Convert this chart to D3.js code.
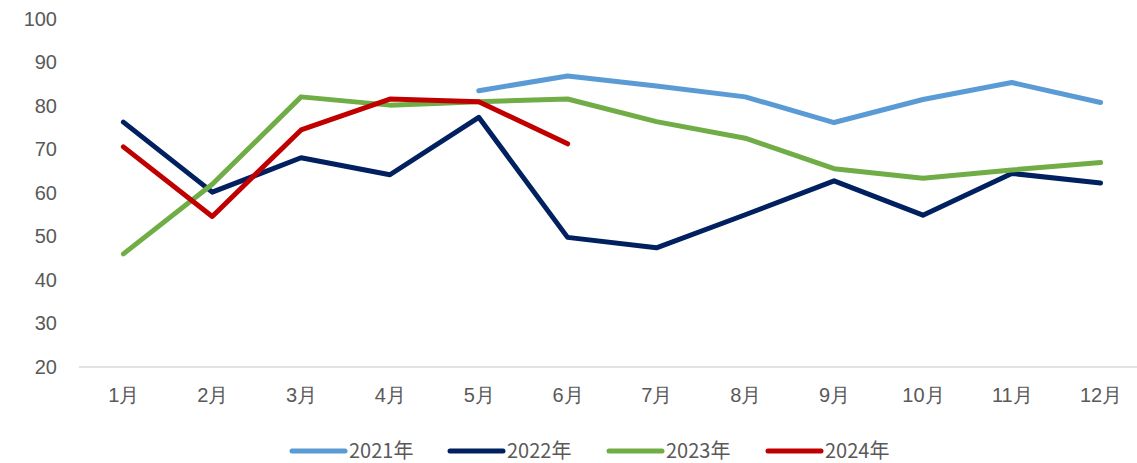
<!DOCTYPE html>
<html>
<head>
<meta charset="utf-8">
<script src="https://cdn.jsdelivr.net/npm/d3@7"></script>
<style>
  body { margin: 0; background: #fff; }
  svg { display: block; font-family: "Noto Sans CJK SC", "Noto Sans", sans-serif; }
</style>
</head>
<body>
<svg id="viz_area" width="1137" height="463"></svg>
<script>
const months = ["1月","2月","3月","4月","5月","6月","7月","8月","9月","10月","11月","12月"];
const yTicks = [20, 30, 40, 50, 60, 70, 80, 90, 100];
const seriesNames = ["2021年", "2022年", "2023年", "2024年"];
const colors = ["#5B9BD5", "#002060", "#70AD47", "#C00000"];

// null = no data that month
const v2021 = [null, null, null, null, 83.5, 86.9, 84.6, 82.1, 76.2, 81.5, 85.4, 80.8];
const v2022 = [76.3, 60.2, 68.1, 64.2, 77.4, 49.8, 47.4, 55.0, 62.8, 54.9, 64.5, 62.3];
const v2023 = [46.0, 62.0, 82.1, 80.2, 81.0, 81.6, 76.4, 72.6, 65.6, 63.4, 65.3, 67.0];
const v2024 = [70.6, 54.6, 74.5, 81.6, 81.0, 71.3, null, null, null, null, null, null];
const allValues = [v2021, v2022, v2023, v2024];

const svg = d3.select("#viz_area");

const plotLeft = 79, plotRight = 1145, plotTop = 19, plotBottom = 367;

const x = d3.scalePoint()
    .domain(months)
    .range([plotLeft, plotRight])
    .padding(0.5);

const y = d3.scaleLinear()
    .domain([20, 100])
    .range([plotBottom, plotTop]);

// y axis labels only
const yAxis = svg.append("g")
    .attr("transform", "translate(" + plotLeft + ",0)")
    .call(d3.axisLeft(y).tickValues(yTicks).tickSize(0).tickPadding(22));
yAxis.select(".domain").remove();
yAxis.selectAll("text")
    .attr("fill", "#595959")
    .style("font-size", "20px");

// x axis
const xAxis = svg.append("g")
    .attr("transform", "translate(0," + plotBottom + ")")
    .call(d3.axisBottom(x).tickSize(0).tickSizeOuter(0).tickPadding(21));
xAxis.select(".domain")
    .attr("stroke", "#d9d9d9")
    .attr("stroke-width", 1.5)
    .attr("d", "M" + plotLeft + ",0H" + plotRight);
xAxis.selectAll("text")
    .attr("fill", "#595959")
    .style("font-size", "20px");

const line = d3.line()
    .defined(d => d != null)
    .x((d, i) => x(months[i]))
    .y(d => y(d));

svg.append("g")
    .selectAll("path")
    .data(allValues)
    .join("path")
    .attr("d", line)
    .attr("fill", "none")
    .attr("stroke", (d, i) => colors[i])
    .attr("stroke-width", 5)
    .attr("stroke-linejoin", "round")
    .attr("stroke-linecap", "round");

// legend
const legendX = [292, 450, 609, 768];
const legend = svg.append("g")
    .selectAll("g")
    .data(seriesNames)
    .join("g")
    .attr("transform", (d, i) => "translate(" + legendX[i] + ",451)");
legend.append("line")
    .attr("x1", 0).attr("x2", 53)
    .attr("stroke", (d, i) => colors[i])
    .attr("stroke-width", 5)
    .attr("stroke-linecap", "round");
legend.append("text")
    .attr("x", 57)
    .attr("dy", "0.35em")
    .attr("fill", "#595959")
    .style("font-size", "20px")
    .text(d => d);
</script>
</body>
</html>
